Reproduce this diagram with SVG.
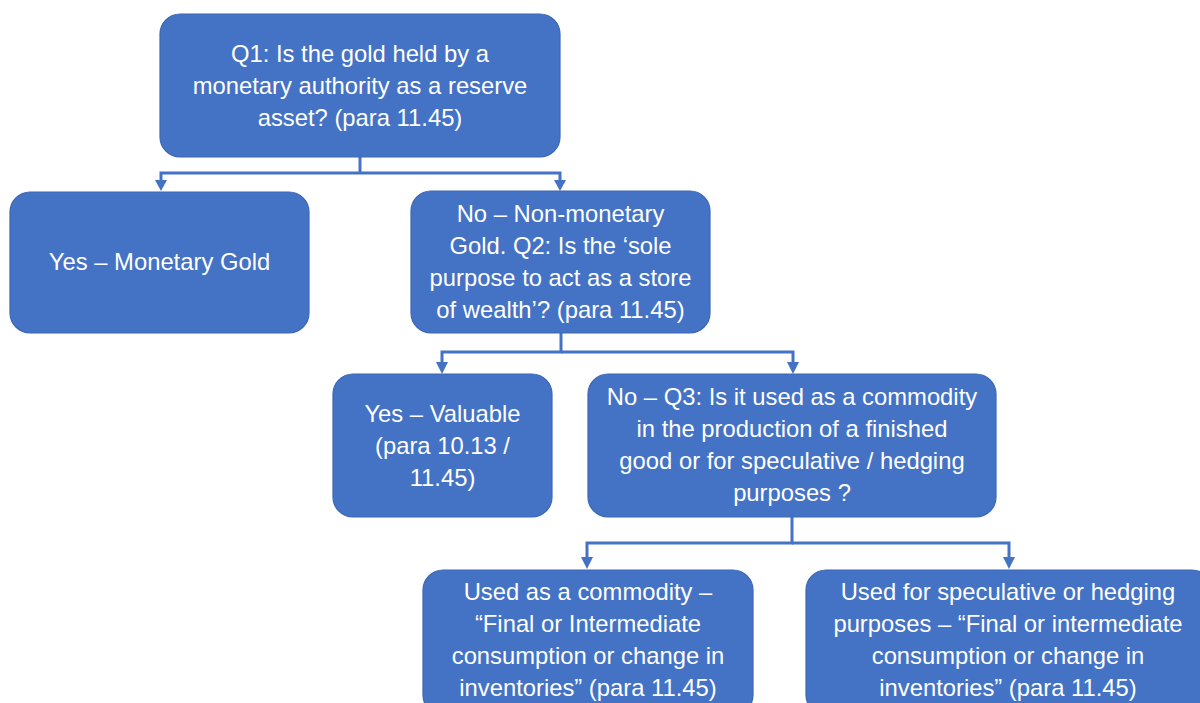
<svg xmlns="http://www.w3.org/2000/svg" width="1200" height="703" viewBox="0 0 1200 703">
<style>
.box{fill:#4472C4;stroke:#3B67B4;stroke-width:1.2}
.t{font-family:"Liberation Sans",Arial,sans-serif;font-size:23.8px;fill:#FFFFFF;text-anchor:middle}
.c{fill:none;stroke:#4472C4;stroke-width:3}
.a{fill:#4472C4}
</style>
<rect width="1200" height="703" fill="#FFFFFF"/>
<g id="connectors">
<path class="c" d="M360,157 V173"/>
<path class="c" d="M360,173 H161 V182"/>
<path class="c" d="M360,173 H560 V182"/>
<path class="a" d="M155,180 L167,180 L161,191 Z"/>
<path class="a" d="M554,180 L566,180 L560,191 Z"/>
<path class="c" d="M561,333 V352 H442 V363"/>
<path class="c" d="M561,352 H793 V363"/>
<path class="a" d="M436,362 L448,362 L442,374 Z"/>
<path class="a" d="M787,362 L799,362 L793,374 Z"/>
<path class="c" d="M792,517 V543 H587 V558"/>
<path class="c" d="M792,543 H1009 V558"/>
<path class="a" d="M581,557 L593,557 L587,569 Z"/>
<path class="a" d="M1003,557 L1015,557 L1009,569 Z"/>
</g>
<g id="q1">
<rect class="box" x="160" y="14" width="400" height="143" rx="20"/>
<text class="t" x="360" y="62">Q1: Is the gold held by a</text>
<text class="t" x="360" y="94">monetary authority as a reserve</text>
<text class="t" x="360" y="126">asset? (para 11.45)</text>
</g>
<g id="yes-monetary">
<rect class="box" x="10" y="192" width="299" height="141" rx="20"/>
<text class="t" x="159.5" y="270">Yes – Monetary Gold</text>
</g>
<g id="no-nonmonetary">
<rect class="box" x="411" y="191" width="299" height="142" rx="20"/>
<text class="t" x="560.5" y="222">No – Non-monetary</text>
<text class="t" x="560.5" y="254">Gold. Q2: Is the ‘sole</text>
<text class="t" x="560.5" y="286">purpose to act as a store</text>
<text class="t" x="560.5" y="318">of wealth’? (para 11.45)</text>
</g>
<g id="yes-valuable">
<rect class="box" x="333" y="374" width="219" height="143" rx="20"/>
<text class="t" x="442.5" y="422">Yes – Valuable</text>
<text class="t" x="442.5" y="454">(para 10.13  /</text>
<text class="t" x="442.5" y="486">11.45)</text>
</g>
<g id="no-q3">
<rect class="box" x="588" y="374" width="408" height="143" rx="20"/>
<text class="t" x="792" y="405">No – Q3: Is it used as a commodity</text>
<text class="t" x="792" y="437">in the production of a finished</text>
<text class="t" x="792" y="469">good or for speculative / hedging</text>
<text class="t" x="792" y="501">purposes ?</text>
</g>
<g id="commodity">
<rect class="box" x="423" y="570" width="330" height="145" rx="20"/>
<text class="t" x="588" y="600">Used as a commodity –</text>
<text class="t" x="588" y="632">“Final or Intermediate</text>
<text class="t" x="588" y="664">consumption or change in</text>
<text class="t" x="588" y="696">inventories” (para 11.45)</text>
</g>
<g id="speculative">
<rect class="box" x="806" y="570" width="406" height="145" rx="20"/>
<text class="t" x="1008" y="600">Used for speculative or hedging</text>
<text class="t" x="1008" y="632">purposes – “Final or intermediate</text>
<text class="t" x="1008" y="664">consumption or change in</text>
<text class="t" x="1008" y="696">inventories” (para 11.45)</text>
</g>
</svg>
